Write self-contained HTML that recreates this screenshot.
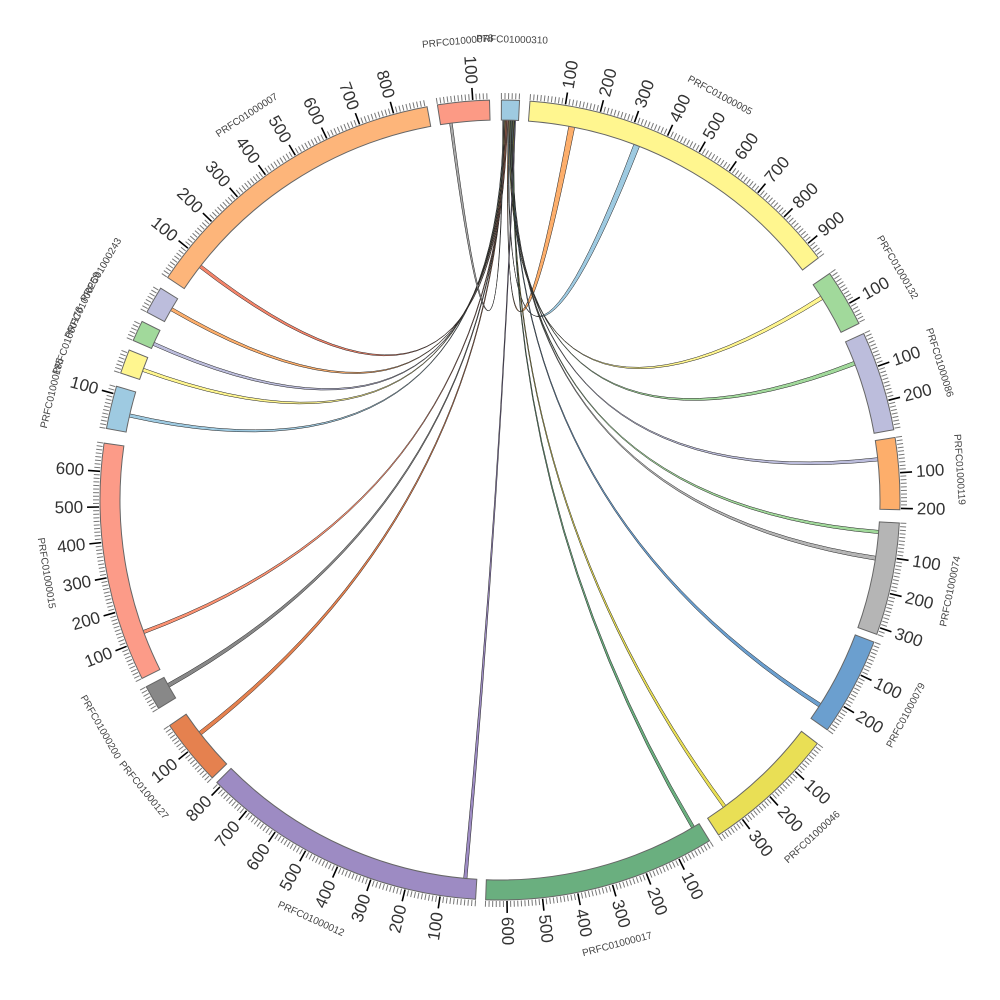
<!DOCTYPE html>
<html><head><meta charset="utf-8"><style>
html,body{margin:0;padding:0;background:#fff;}
svg{display:block;font-family:"Liberation Sans","DejaVu Sans",sans-serif;}
</style></head><body>
<svg id="chart" width="1000" height="1000" viewBox="0 0 1000 1000">
<g id="links"></g>
<g id="segs"></g>
<g id="ticks"></g>
<g id="labels"></g>
</svg>
<script>
const segNames=["PRFC01000310","PRFC01000005","PRFC01000132","PRFC01000086","PRFC01000119","PRFC01000074","PRFC01000079","PRFC01000046","PRFC01000017","PRFC01000012","PRFC01000127","PRFC01000200","PRFC01000015","PRFC01000185","PRFC01000178","PRFC01000259","PRFC01000243","PRFC01000007","PRFC01000078"];
const segLen=[51,950,163,284,204,320,280,380,660,815,190,70,680,122,69,59,78,896,147];
const segColors=["#9ecae1","#fff68f","#a1d99b","#bcbddc","#fdae6b","#b5b5b5","#6b9fcf","#e9df55","#6aaf7f","#9d8bc3","#e5814f","#888888","#fc9b88","#9ecae1","#fff68f","#a1d99b","#bcbddc","#fdb57a","#fc9a85"];
const segStart=[0.2,4.3,55.5,65.4,81.0,93.3,110.8,127.5,148.4,183.5,226.0,238.6,243.5,280.3,288.5,293.5,298.0,303.8,351.0];
const linkTargetSeg=[1,1,2,3,4,5,5,6,7,8,9,10,11,12,13,14,15,16,17,18];
const linkTargetPos=[120,320,40,63,51,25,102,227,314,16,29,114,37,116,45,25,10,37,76,27];
const linkTargetWidth=[18,18,12,12,10,10,12,12,10,10,10,12,12,10,10,10,10,10,10,8];
const linkSourcePos=[20,22,24,26,28,30,32,34,36,38,40,12,14,16,6,8,10,11,13,4];
const linkColors=["#fdae6b","#9ecae1","#fff68f","#a1d99b","#bcbddc","#a1d99b","#b5b5b5","#6b9fcf","#e9df55","#6aaf7f","#9d8bc3","#e5814f","#888888","#fc9272","#9ecae1","#fff68f","#bcbddc","#fdae6b","#f4846a","#aaaaaa"];

const NS="http://www.w3.org/2000/svg";
const CX=500,CY=500,R0=380,R1=400,K=0.051;
function ang(s,pos){return segStart[s]+pos*K;}
function pt(th,r){const a=th*Math.PI/180;return [CX+r*Math.sin(a),CY-r*Math.cos(a)];}
function mk(tag,attrs,parent){const e=document.createElementNS(NS,tag);for(const k in attrs)e.setAttribute(k,attrs[k]);parent.appendChild(e);return e;}
function arcPath(a0,a1,r){const p=pt(a1,r);return `A${r},${r} 0 ${(a1-a0)>180?1:0} 1 ${p[0].toFixed(2)},${p[1].toFixed(2)}`;}

const gL=document.getElementById('links');
for(let i=0;i<linkTargetSeg.length;i++){
  const s0=ang(0,linkSourcePos[i]),s1=ang(0,linkSourcePos[i]+2.5);
  const t=linkTargetSeg[i];
  const t0=ang(t,linkTargetPos[i]),t1=ang(t,linkTargetPos[i]+linkTargetWidth[i]);
  const a=pt(s0,R0),c=pt(t0,R0);
  const dstr=`M${a[0]},${a[1]} ${arcPath(s0,s1,R0)} Q${CX},${CY} ${c[0]},${c[1]} ${arcPath(t0,t1,R0)} Q${CX},${CY} ${a[0]},${a[1]} Z`;
  const p=mk('path',{d:dstr,fill:linkColors[i],stroke:'#222','stroke-width':0.5},gL);
  
  
}

const gS=document.getElementById('segs'),gT=document.getElementById('ticks'),gB=document.getElementById('labels');
for(let s=0;s<segNames.length;s++){
  const a0=segStart[s],a1=ang(s,segLen[s]);
  const p0=pt(a0,R1),p1=pt(a1,R0);
  const d=`M${p0[0]},${p0[1]} ${arcPath(a0,a1,R1)} L${p1[0]},${p1[1]} A${R0},${R0} 0 0 0 ${pt(a0,R0).join(',')} Z`;
  const seg=mk('path',{d:d,fill:segColors[s],stroke:'#666','stroke-width':1},gS);
  
  
  for(let v=0;v<=segLen[s];v+=10){
    const th=ang(s,v);
    const major=v>0&&v%100===0;
    const q0=pt(th,R1+1),q1=pt(th,R1+(major?13:7));
    const tl=mk('line',{x1:q0[0],y1:q0[1],x2:q1[0],y2:q1[1],stroke:major?'#000':'#777','stroke-width':major?1.6:1},gT);
    
    
    if(major){
      const lp=pt(th,R1+17);
      const right=th<180;
      const rot=right?th-90:th+90;
      const tx=mk('text',{x:lp[0],y:lp[1],'font-size':17,fill:'#333','text-anchor':right?'start':'end','dominant-baseline':'central',transform:`rotate(${rot.toFixed(2)} ${lp[0].toFixed(2)} ${lp[1].toFixed(2)})`},gT);
      tx.textContent=String(v);
      
      
    }
  }
  const mid=(a0+a1)/2;
  const np=pt(mid,460);
  const rot=(mid>90&&mid<270)?mid-180:mid;
  const nt=mk('text',{x:np[0],y:np[1],'font-size':10,fill:'#444','text-anchor':'middle','dominant-baseline':'central',transform:`rotate(${rot.toFixed(2)} ${np[0].toFixed(2)} ${np[1].toFixed(2)})`},gB);
  nt.textContent=segNames[s];
  
  
}
</script>
</body></html>
